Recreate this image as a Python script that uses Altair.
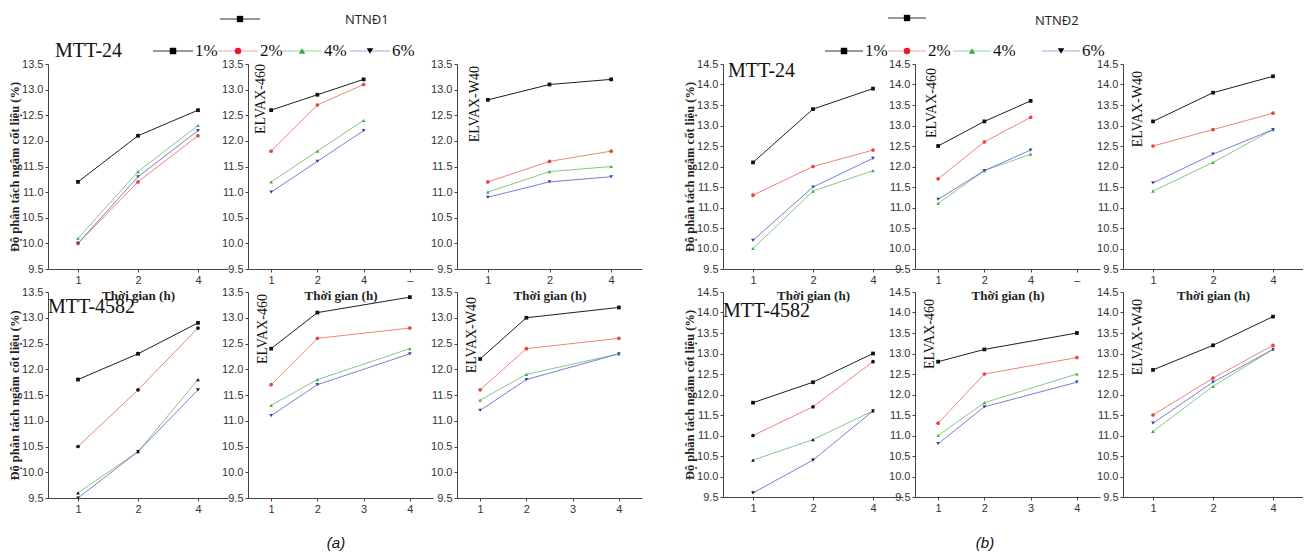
import altair as alt
import pandas as pd

SERIES = ["1%", "2%", "4%", "6%"]
HOURS = [1, 2, 4]
LINE_COLORS = ["#1e1e1e", "#f08478", "#86c986", "#7c7cd6"]
MARKER_COLORS = ["#111111", "#e2483e", "#43ad4b", "#3c3cae"]
LEGEND_LINE_COLORS = ["#333333", "#f4a3a3", "#9ed29e", "#a7a7d6"]
LEGEND_MARKER_COLORS = ["#000000", "#e8192c", "#35a845", "#000000"]
SHAPES = ["square", "circle", "triangle-up", "triangle-down"]

Y_TICKS_A = [9.5, 10.0, 10.5, 11.0, 11.5, 12.0, 12.5, 13.0, 13.5]
Y_TICKS_B = [9.5, 10.0, 10.5, 11.0, 11.5, 12.0, 12.5, 13.0, 13.5, 14.0, 14.5]
X_LABELS_IDX = ["1", "2", "4"]
X_LABELS_IDX_EXTRA = ["1", "2", "4", "–"]
X_LABELS_LIN = ["1", "2", "3", "4"]

# (a) NTNĐ1 — rows are 1%, 2%, 4%, 6%; columns are 1 h, 2 h, 4 h
A_MTT24 = [[11.2, 12.1, 12.6], [10.0, 11.2, 12.1], [10.1, 11.4, 12.3], [10.0, 11.3, 12.2]]
A_E460_R1 = [[12.6, 12.9, 13.2], [11.8, 12.7, 13.1], [11.2, 11.8, 12.4], [11.0, 11.6, 12.2]]
A_W40_R1 = [[12.8, 13.1, 13.2], [11.2, 11.6, 11.8], [11.0, 11.4, 11.5], [10.9, 11.2, 11.3]]
A_MTT4582 = [[11.8, 12.3, 12.9], [10.5, 11.6, 12.8], [9.6, 10.4, 11.8], [9.5, 10.4, 11.6]]
A_E460_R2 = [[12.4, 13.1, 13.4], [11.7, 12.6, 12.8], [11.3, 11.8, 12.4], [11.1, 11.7, 12.3]]
A_W40_R2 = [[12.2, 13.0, 13.2], [11.6, 12.4, 12.6], [11.4, 11.9, 12.3], [11.2, 11.8, 12.3]]
# (b) NTNĐ2
B_MTT24 = [[12.1, 13.4, 13.9], [11.3, 12.0, 12.4], [10.0, 11.4, 11.9], [10.2, 11.5, 12.2]]
B_E460_R1 = [[12.5, 13.1, 13.6], [11.7, 12.6, 13.2], [11.1, 11.9, 12.3], [11.2, 11.9, 12.4]]
B_W40_R1 = [[13.1, 13.8, 14.2], [12.5, 12.9, 13.3], [11.4, 12.1, 12.9], [11.6, 12.3, 12.9]]
B_MTT4582 = [[11.8, 12.3, 13.0], [11.0, 11.7, 12.8], [10.4, 10.9, 11.6], [9.6, 10.4, 11.6]]
B_E460_R2 = [[12.8, 13.1, 13.5], [11.3, 12.5, 12.9], [11.0, 11.8, 12.5], [10.8, 11.7, 12.3]]
B_W40_R2 = [[12.6, 13.2, 13.9], [11.5, 12.4, 13.2], [11.1, 12.2, 13.1], [11.3, 12.3, 13.1]]

SERIF = "Liberation Serif"
SANS = "Liberation Sans"
Y_TITLE = "Độ phân tách ngâm cốt liệu (%)"
X_TITLE = "Thời gian (h)"


def txt(t, x, y, size, font=SERIF, color="#111111", align="left", angle=0,
        weight="normal", style="normal"):
    return alt.Chart(pd.DataFrame({"t": [t]})).mark_text(
        align=align, baseline="middle", font=font, fontSize=size, color=color,
        angle=angle, fontWeight=weight, fontStyle=style
    ).encode(text="t:N", x=alt.value(x), y=alt.value(y))


def seg(x1, x2, y, color):
    return alt.Chart(pd.DataFrame({"a": [0]})).mark_rule(color=color, strokeWidth=1).encode(
        x=alt.value(x1), x2=alt.value(x2), y=alt.value(y))


def dot(x, y, shape, color, size=42):
    return alt.Chart(pd.DataFrame({"a": [0]})).mark_point(
        shape=shape, filled=True, color=color, size=size, opacity=1).encode(
        x=alt.value(x), y=alt.value(y))


def legend(xs, y, length, header_x, header_y, name, name_x, name_y):
    parts = [seg(header_x, header_x + length, header_y, "#333333"),
             dot(header_x + length / 2, header_y, "square", "#000000", 40),
             txt(name, name_x, name_y, 13, font="Open Sans", color="#222222")]
    for i, s in enumerate(SERIES):
        x0 = xs[i]
        parts.append(seg(x0, x0 + length, y, LEGEND_LINE_COLORS[i]))
        parts.append(dot(x0 + length / 2, y, SHAPES[i], LEGEND_MARKER_COLORS[i]))
        parts.append(txt(s, x0 + length + 2, y, 17, color="#111111"))
    return parts


def panel(values, kind, yticks, width, height, xtitle=False, ytitle=False,
          black_markers=False, deco=()):
    pos = HOURS if kind == "lin" else [1, 2, 3]
    recs = []
    for s, vals in zip(SERIES, values):
        for p, v in zip(pos, vals):
            recs.append({"pos": p, "val": v, "series": s})
    df = pd.DataFrame(recs)
    ticks = [1, 2, 3] if kind == "idx" else [1, 2, 3, 4]
    labels = {"idx": X_LABELS_IDX, "idx4": X_LABELS_IDX_EXTRA, "lin": X_LABELS_LIN}[kind]
    expr = "[" + ",".join("'" + l + "'" for l in labels) + "][datum.value - 1]"
    dom = [0.5, 3.5] if kind == "idx" else [0.5, 4.5]

    xkw = dict(values=ticks, labelExpr=expr)
    if xtitle:
        xkw.update(titleFont=SERIF, titleFontSize=13, titleFontWeight="bold",
                   titlePadding=4, titleColor="#222222")
    ykw = dict(values=yticks, format=".1f")
    if ytitle:
        ykw.update(titleFont=SERIF, titleFontSize=12.5, titleFontWeight="bold",
                   titlePadding=0, titleColor="#222222")

    x = alt.X("pos:Q", scale=alt.Scale(domain=dom, nice=False, zero=False),
              axis=alt.Axis(**xkw), title=X_TITLE if xtitle else None)
    y = alt.Y("val:Q", scale=alt.Scale(domain=[yticks[0], yticks[-1]], nice=False, zero=False),
              axis=alt.Axis(**ykw), title=Y_TITLE if ytitle else None)

    line = alt.Chart(df).mark_line(strokeWidth=1).encode(
        x=x, y=y,
        color=alt.Color("series:N", scale=alt.Scale(domain=SERIES, range=LINE_COLORS), legend=None))
    if black_markers:
        fill = alt.value("#111111")
    else:
        fill = alt.Fill("series:N", scale=alt.Scale(domain=SERIES, range=MARKER_COLORS), legend=None)
    pts = alt.Chart(df).mark_point(filled=True, size=14, opacity=1).encode(
        x=x, y=y,
        shape=alt.Shape("series:N", scale=alt.Scale(domain=SERIES, range=SHAPES), legend=None),
        fill=fill)
    return alt.layer(line, pts, *deco).properties(width=width, height=height)


def rot(t, x, ytop):
    return txt(t, x, ytop, 14, angle=270, align="right")


def gap(w):
    return alt.Chart(pd.DataFrame({"a": [0]})).mark_point(opacity=0, size=1).encode(
        x=alt.value(0), y=alt.value(0)).properties(width=w, height=1)


H1 = 205
H2 = 206

# ---- group (a) ----
a11 = panel(A_MTT24, "idx", Y_TICKS_A, 180, H1, xtitle=True, ytitle=True,
            deco=[txt("MTT-24", 7, -13, 20)] +
            legend([105, 170, 234, 302], -13, 40, 172, -45, "NTNĐ1", 297, -44))
a12 = panel(A_E460_R1, "idx4", Y_TICKS_A, 185, H1, xtitle=True, deco=[rot("ELVAX-460", 13, 0)])
a13 = panel(A_W40_R1, "idx", Y_TICKS_A, 185, H1, xtitle=True, deco=[rot("ELVAX-W40", 18, 2)])
a21 = panel(A_MTT4582, "idx", Y_TICKS_A, 180, H2, ytitle=True, black_markers=True,
            deco=[txt("MTT-4582", 0, 15, 20)])
a22 = panel(A_E460_R2, "lin", Y_TICKS_A, 185, H2,
            deco=[rot("ELVAX-460", 15, 2), txt("(a)", 88, 251, 15, font=SANS, align="center", style="italic")])
a23 = panel(A_W40_R2, "lin", Y_TICKS_A, 185, H2, deco=[rot("ELVAX-W40", 15, 5)])

# ---- group (b) ----
b11 = panel(B_MTT24, "idx", Y_TICKS_B, 180, H1, xtitle=True, ytitle=True,
            deco=[txt("MTT-24", 5, 7, 20)] +
            legend([102, 165, 230, 319], -13, 38, 165, -46, "NTNĐ2", 312, -43))
b12 = panel(B_E460_R1, "idx4", Y_TICKS_B, 185, H1, xtitle=True, deco=[rot("ELVAX-460", 17, 4)])
b13 = panel(B_W40_R1, "idx", Y_TICKS_B, 180, H1, xtitle=True, deco=[rot("ELVAX-W40", 15, 7)])
b21 = panel(B_MTT4582, "idx", Y_TICKS_B, 180, H2 - 1, ytitle=True, black_markers=True,
            deco=[txt("MTT-4582", 0, 19, 20)])
b22 = panel(B_E460_R2, "lin", Y_TICKS_B, 185, H2 - 1,
            deco=[rot("ELVAX-460", 15, 7), txt("(b)", 70, 251, 15, font=SANS, align="center", style="italic")])
b23 = panel(B_W40_R2, "idx", Y_TICKS_B, 180, H2 - 1, deco=[rot("ELVAX-W40", 15, 7)])

cells = [a11, gap(20), a12, gap(24), a13, gap(81), b11, gap(12), b12, gap(23), b13,
         a21, gap(20), a22, gap(24), a23, gap(81), b21, gap(12), b22, gap(23), b23]

chart = alt.concat(*cells, columns=11, spacing={"row": 23, "column": 0}, bounds="flush").properties(
    padding={"left": 0, "top": 6, "right": 0, "bottom": 0}
).configure_view(strokeWidth=0).configure_axis(
    domainColor="#444444", tickColor="#444444", labelColor="#333333",
    labelFont=SANS, labelFontSize=11, tickSize=3, grid=False, labelPadding=2,
    domainWidth=1, labelFlush=False, labelOverlap=False
)

chart.save("out.html", embed_options={"renderer": "svg", "actions": False})
